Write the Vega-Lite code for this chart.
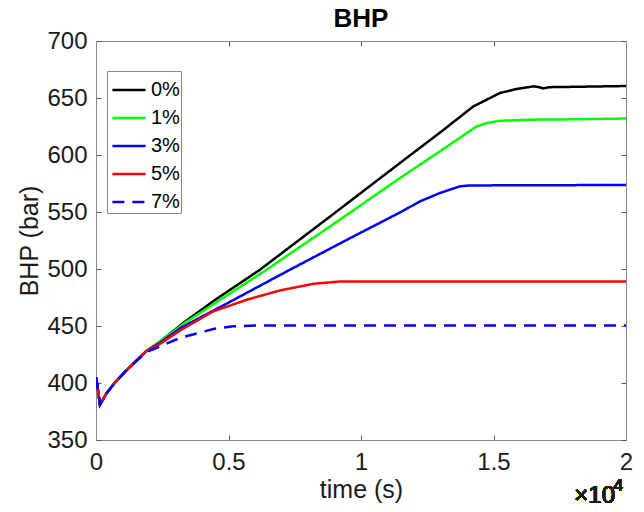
{
  "$schema": "https://vega.github.io/schema/vega-lite/v6.json",
  "width": 530,
  "height": 399,
  "autosize": {"type": "none"},
  "padding": {"left": 96, "top": 41, "right": 18, "bottom": 72},
  "background": "white",
  "title": {"text": "BHP", "fontSize": 26, "font": "Liberation Sans", "fontWeight": "bold", "color": "#000000", "offset": -3, "anchor": "middle"},
  "config": {
    "view": {"stroke": null},
    "font": "Liberation Sans",
    "axis": {"grid": false, "labelFlush": false, "domainColor": "#8a8a8a", "tickColor": "#555555", "tickSize": -5, "labelFontSize": 24, "labelColor": "#1a1a1a", "titleFontSize": 25, "titleFontWeight": "normal", "titleColor": "#1a1a1a", "labelFont": "Liberation Sans", "titleFont": "Liberation Sans"}
  },
  "data": {"values": [
    {"s":"0%","t":0,"p":405},{"s":"0%","t":50,"p":398},{"s":"0%","t":150,"p":381},{"s":"0%","t":400,"p":391},{"s":"0%","t":700,"p":400},{"s":"0%","t":1100,"p":410},{"s":"0%","t":1500,"p":419},{"s":"0%","t":1900,"p":428},
    {"s":"0%","t":2400,"p":436},{"s":"0%","t":3370,"p":454},{"s":"0%","t":4500,"p":473},{"s":"0%","t":6189,"p":499.4},{"s":"0%","t":9000,"p":549},{"s":"0%","t":11472,"p":593},{"s":"0%","t":13000,"p":620},{"s":"0%","t":14238,"p":642.6},{"s":"0%","t":14743,"p":648.5},{"s":"0%","t":15245,"p":654.4},{"s":"0%","t":15875,"p":657.9},{"s":"0%","t":16503,"p":660.2},{"s":"0%","t":16700,"p":659.6},{"s":"0%","t":16880,"p":658.4},{"s":"0%","t":17100,"p":659.5},{"s":"0%","t":18000,"p":659.8},{"s":"0%","t":20000,"p":660.5},
    {"s":"1%","t":0,"p":405},{"s":"1%","t":50,"p":398},{"s":"1%","t":150,"p":381},{"s":"1%","t":400,"p":391},{"s":"1%","t":700,"p":400},{"s":"1%","t":1100,"p":410},{"s":"1%","t":1500,"p":419},{"s":"1%","t":1900,"p":428},
    {"s":"1%","t":2400,"p":436},{"s":"1%","t":3370,"p":453},{"s":"1%","t":6440,"p":499.4},{"s":"1%","t":9000,"p":540},{"s":"1%","t":11472,"p":579.8},{"s":"1%","t":13000,"p":603.5},{"s":"1%","t":14365,"p":625.1},{"s":"1%","t":14743,"p":628},{"s":"1%","t":15245,"p":630},{"s":"1%","t":16500,"p":631},{"s":"1%","t":18000,"p":631.3},{"s":"1%","t":20000,"p":632},
    {"s":"3%","t":0,"p":405},{"s":"3%","t":50,"p":398},{"s":"3%","t":150,"p":381},{"s":"3%","t":400,"p":391},{"s":"3%","t":700,"p":400},{"s":"3%","t":1100,"p":410},{"s":"3%","t":1500,"p":419},{"s":"3%","t":1900,"p":428},
    {"s":"3%","t":2400,"p":435},{"s":"3%","t":3170,"p":448},{"s":"3%","t":5000,"p":470.5},{"s":"3%","t":7321,"p":499.4},{"s":"3%","t":9500,"p":526},{"s":"3%","t":11472,"p":549.6},{"s":"3%","t":12226,"p":559.3},{"s":"3%","t":12981,"p":566.7},{"s":"3%","t":13736,"p":572.5},{"s":"3%","t":14100,"p":573.3},{"s":"3%","t":20000,"p":573.7},
    {"s":"5%","t":0,"p":405},{"s":"5%","t":50,"p":398},{"s":"5%","t":150,"p":381},{"s":"5%","t":400,"p":391},{"s":"5%","t":700,"p":400},{"s":"5%","t":1100,"p":410},{"s":"5%","t":1500,"p":419},{"s":"5%","t":1900,"p":428},
    {"s":"5%","t":2400,"p":434},{"s":"5%","t":3170,"p":446},{"s":"5%","t":4426,"p":462.8},{"s":"5%","t":5686,"p":473},{"s":"5%","t":6943,"p":481.2},{"s":"5%","t":8200,"p":487},{"s":"5%","t":9208,"p":489},{"s":"5%","t":20000,"p":489},
    {"s":"7%","t":0,"p":405},{"s":"7%","t":50,"p":398},{"s":"7%","t":150,"p":381},{"s":"7%","t":400,"p":391},{"s":"7%","t":700,"p":400},{"s":"7%","t":1100,"p":410},{"s":"7%","t":1500,"p":419},{"s":"7%","t":1900,"p":427},
    {"s":"7%","t":2400,"p":432},{"s":"7%","t":3170,"p":439.5},{"s":"7%","t":4426,"p":447.4},{"s":"7%","t":5181,"p":449.7},{"s":"7%","t":6000,"p":450.5},{"s":"7%","t":20000,"p":450.5}
  ]},
  "layer": [
    {
      "mark": {"type": "line", "strokeWidth": 2.5, "clip": true},
      "encoding": {
        "x": {"field": "t", "type": "quantitative", "scale": {"domain": [0, 20000], "nice": false, "zero": false},
              "axis": {"orient": "bottom", "values": [0, 5000, 10000, 15000, 20000], "labelExpr": "datum.value / 10000", "labelPadding": 15, "title": "time (s)", "titlePadding": 3}},
        "y": {"field": "p", "type": "quantitative", "scale": {"domain": [350, 700], "nice": false, "zero": false},
              "axis": {"orient": "left", "values": [350, 400, 450, 500, 550, 600, 650, 700], "labelPadding": 14, "title": "BHP (bar)", "titlePadding": 4}},
        "color": {"field": "s", "type": "nominal", "scale": {"domain": ["0%","1%","3%","5%","7%"], "range": ["#000000","#00ff00","#0000ff","#ff0000","#0000ff"]},
                  "legend": {"title": null, "orient": "none", "legendX": 11, "legendY": 30, "symbolType": "stroke", "symbolSize": 1100, "symbolStrokeWidth": 2.5, "symbolOffset": 3, "labelFontSize": 20, "labelColor": "#000000", "labelOffset": 4, "rowPadding": -6, "padding": 1, "strokeColor": "#8a8a8a", "fillColor": "white"}},
        "strokeDash": {"field": "s", "type": "nominal", "scale": {"domain": ["0%","1%","3%","5%","7%"], "range": [[1,0],[1,0],[1,0],[1,0],[12,8]]}},
        "order": {"field": "t", "type": "quantitative"}
      }
    },
    {
      "mark": {"type": "text", "align": "right", "baseline": "alphabetic", "dx": -11, "dy": 63, "fontSize": 24, "color": "#1a1a1a", "text": "×10"},
      "encoding": {
        "x": {"datum": 20000, "type": "quantitative", "axis": {"orient": "top", "labels": false, "title": null, "values": [0, 5000, 10000, 15000, 20000]}},
        "y": {"datum": 350, "type": "quantitative", "axis": {"orient": "right", "labels": false, "title": null, "values": [350, 400, 450, 500, 550, 600, 650, 700]}}
      }
    },
    {
      "mark": {"type": "text", "align": "right", "baseline": "alphabetic", "dx": -3, "dy": 51, "fontSize": 17, "color": "#1a1a1a", "text": "4"},
      "encoding": {
        "x": {"datum": 20000, "type": "quantitative", "axis": null},
        "y": {"datum": 350, "type": "quantitative", "axis": null}
      }
    }
  ],
  "resolve": {"axis": {"x": "independent", "y": "independent"}}
}
